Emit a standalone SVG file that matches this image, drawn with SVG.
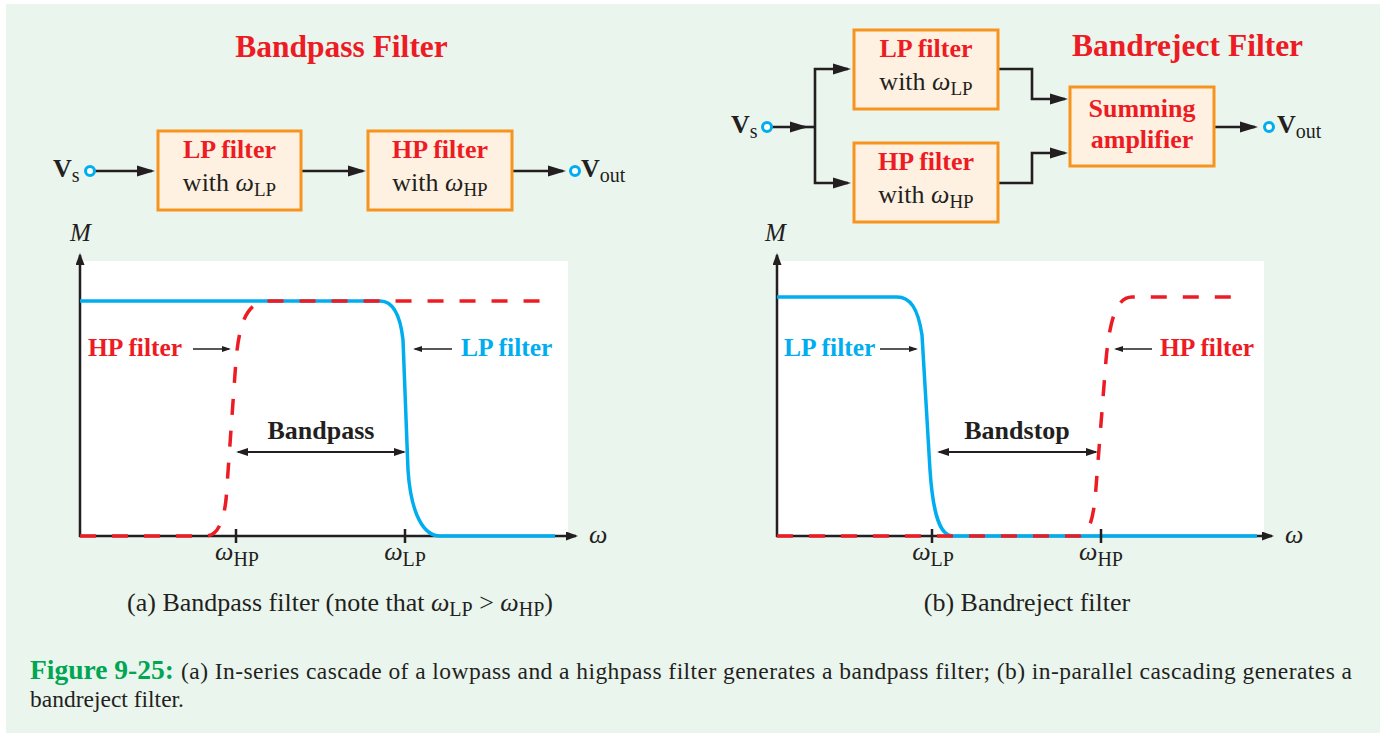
<svg xmlns="http://www.w3.org/2000/svg" width="1380" height="733" viewBox="0 0 1380 733">
<defs>
<style>
.t{font-family:"Liberation Serif","Times New Roman",serif;fill:#231F20}
.b{font-weight:bold}
.i{font-style:italic}
.red{fill:#ED1C24}
.blue{fill:#00AEEF}
.green{fill:#00A651}
.box{fill:#FEF1E1;stroke:#F7941D;stroke-width:3}
.conn{fill:none;stroke:#231F20;stroke-width:2.6;stroke-linejoin:miter}
.arr{marker-end:url(#ah)}
.term{fill:#FFFFFF;stroke:#00AEEF;stroke-width:3}
.plot{fill:#FFFFFF}
.axis{fill:none;stroke:#231F20;stroke-width:2.5;marker-end:url(#ax)}
.lp{fill:none;stroke:#00AEEF;stroke-width:3.5}
.hp{fill:none;stroke:#ED1C24;stroke-width:3.5;stroke-dasharray:16 16}
.tick{stroke:#231F20;stroke-width:2.5}
.ptr{fill:none;stroke:#231F20;stroke-width:1.6;marker-end:url(#sm)}
.dbl{fill:none;stroke:#231F20;stroke-width:2;marker-start:url(#dh);marker-end:url(#dh)}
</style>
<marker id="ah" markerUnits="userSpaceOnUse" markerWidth="18" markerHeight="12" refX="15" refY="6" orient="auto"><path d="M0,0.5 L18,6 L0,11.5 z" fill="#231F20"/></marker>
<marker id="ax" markerUnits="userSpaceOnUse" markerWidth="12" markerHeight="9" refX="10" refY="4.5" orient="auto"><path d="M0,0 L12,4.5 L0,9 z" fill="#231F20"/></marker>
<marker id="sm" markerUnits="userSpaceOnUse" markerWidth="9" markerHeight="7" refX="7" refY="3.5" orient="auto"><path d="M0,0.5 L9,3.5 L0,6.5 z" fill="#231F20"/></marker>
<marker id="dh" markerUnits="userSpaceOnUse" markerWidth="12" markerHeight="8" refX="10" refY="4" orient="auto-start-reverse"><path d="M0,0 L12,4 L0,8 z" fill="#231F20"/></marker>
</defs>

<rect x="0" y="0" width="1380" height="733" fill="#FFFFFF"/>
<rect x="6" y="4" width="1374" height="729" fill="#EAF5EE"/>

<!-- Titles -->
<g id="title-bandpass"><text class="t b red" x="341.5" y="57" font-size="31.5" text-anchor="middle">Bandpass Filter</text></g>
<g id="title-bandreject"><text class="t b red" x="1187.5" y="56" font-size="31.5" text-anchor="middle">Bandreject Filter</text></g>

<!-- Connectors -->
<g id="connectors">
<path class="conn arr" d="M94,171 H152"/>
<path class="conn arr" d="M301,171 H363"/>
<path class="conn arr" d="M512,171 H563"/>
<path class="conn arr" d="M771,127 H805"/>
<path class="conn" d="M800,127 H815"/>
<path class="conn arr" d="M815,127 V69 H848"/>
<path class="conn arr" d="M815,127 V183 H848"/>
<path class="conn arr" d="M998,69 H1032 V99 H1065"/>
<path class="conn arr" d="M998,183 H1032 V153 H1065"/>
<path class="conn arr" d="M1214,127 H1255"/>
</g>

<!-- Left block diagram nodes -->
<g id="vs-left">
<text class="t" x="53" y="177" font-size="26"><tspan class="b">V</tspan><tspan font-size="20" dy="5">s</tspan></text>
<circle class="term" cx="90" cy="171" r="4.5"/>
</g>
<g id="lp-box-left">
<rect class="box" x="158" y="131" width="143" height="79"/>
<text class="t b red" x="229.5" y="158" font-size="26" text-anchor="middle">LP filter</text>
<text class="t" x="229.5" y="191" font-size="26" text-anchor="middle">with <tspan class="i">ω</tspan><tspan font-size="19" dy="5">LP</tspan></text>
</g>
<g id="hp-box-left">
<rect class="box" x="368" y="131" width="144" height="79"/>
<text class="t b red" x="440" y="158" font-size="26" text-anchor="middle">HP filter</text>
<text class="t" x="440" y="191" font-size="26" text-anchor="middle">with <tspan class="i">ω</tspan><tspan font-size="19" dy="5">HP</tspan></text>
</g>
<g id="vout-left">
<circle class="term" cx="575" cy="171" r="4.5"/>
<text class="t" x="581" y="177" font-size="26"><tspan class="b">V</tspan><tspan font-size="20" dy="5">out</tspan></text>
</g>

<!-- Right block diagram nodes -->
<g id="vs-right">
<text class="t" x="731" y="133" font-size="26"><tspan class="b">V</tspan><tspan font-size="20" dy="5">s</tspan></text>
<circle class="term" cx="767" cy="127" r="4.5"/>
</g>
<g id="lp-box-right">
<rect class="box" x="854" y="30" width="144" height="79"/>
<text class="t b red" x="926" y="57" font-size="26" text-anchor="middle">LP filter</text>
<text class="t" x="926" y="90" font-size="26" text-anchor="middle">with <tspan class="i">ω</tspan><tspan font-size="19" dy="5">LP</tspan></text>
</g>
<g id="hp-box-right">
<rect class="box" x="854" y="143" width="144" height="79"/>
<text class="t b red" x="926" y="170" font-size="26" text-anchor="middle">HP filter</text>
<text class="t" x="926" y="203" font-size="26" text-anchor="middle">with <tspan class="i">ω</tspan><tspan font-size="19" dy="5">HP</tspan></text>
</g>
<g id="summing-amplifier">
<rect class="box" x="1070" y="87" width="144" height="79"/>
<text class="t b red" x="1142" y="117" font-size="26" text-anchor="middle">Summing</text>
<text class="t b red" x="1142" y="148" font-size="26" text-anchor="middle">amplifier</text>
</g>
<g id="vout-right">
<circle class="term" cx="1269" cy="127" r="4.5"/>
<text class="t" x="1277" y="133" font-size="26"><tspan class="b">V</tspan><tspan font-size="20" dy="5">out</tspan></text>
</g>

<!-- Plot (a) -->
<g id="plot-a">
<rect class="plot" x="80" y="261" width="488" height="275"/>
<path class="axis" d="M80,537 V255"/>
<path class="axis" d="M79,536 H576"/>
<text class="t i" x="70" y="241" font-size="25">M</text>
<text class="t i" x="589" y="543" font-size="26">ω</text>
<path class="lp" d="M80,301 L380,301 C392,301 400,312 403,340 L408,470 C411,515 424,536 440,536 L555,536"/>
<path class="hp" d="M80,536 L206,536 C216,536 223,525 226,500 L236,360 C240,315 250,301 270,301 L540,301"/>
<path class="tick" d="M236,529 V543 M405,529 V543"/>
<text class="t" x="237" y="560" font-size="26" text-anchor="middle"><tspan class="i">ω</tspan><tspan font-size="20" dy="6">HP</tspan></text>
<text class="t" x="405" y="560" font-size="26" text-anchor="middle"><tspan class="i">ω</tspan><tspan font-size="20" dy="6">LP</tspan></text>
<text class="t b red" x="88" y="356" font-size="25.5">HP filter</text>
<path class="ptr" d="M193,349 H229"/>
<text class="t b blue" x="461" y="356" font-size="25.5">LP filter</text>
<path class="ptr" d="M452,349 H415"/>
<text class="t b" x="321" y="439" font-size="26" text-anchor="middle">Bandpass</text>
<path class="dbl" d="M238,452 H404"/>
<text class="t" x="340" y="611" font-size="26" text-anchor="middle">(a) Bandpass filter (note that <tspan class="i">ω</tspan><tspan font-size="20" dy="5">LP</tspan><tspan dy="-5"> &gt; </tspan><tspan class="i">ω</tspan><tspan font-size="20" dy="5">HP</tspan><tspan dy="-5">)</tspan></text>
</g>

<!-- Plot (b) -->
<g id="plot-b">
<rect class="plot" x="777" y="261" width="487" height="275"/>
<path class="axis" d="M777,537 V255"/>
<path class="axis" d="M776,536 H1272"/>
<text class="t i" x="765" y="241" font-size="25">M</text>
<text class="t i" x="1285" y="543" font-size="26">ω</text>
<path class="lp" d="M777,297 L897,297 C910,297 918,308 922,335 L930,470 C933,515 940,536 953,536 L1257,536"/>
<path class="hp" d="M777,536 L1078,536 C1087,536 1092,525 1095,500 L1106,360 C1110,315 1118,297 1132,297 L1236,297"/>
<path class="tick" d="M932,529 V543 M1101,529 V543"/>
<text class="t" x="933" y="560" font-size="26" text-anchor="middle"><tspan class="i">ω</tspan><tspan font-size="20" dy="6">LP</tspan></text>
<text class="t" x="1101" y="560" font-size="26" text-anchor="middle"><tspan class="i">ω</tspan><tspan font-size="20" dy="6">HP</tspan></text>
<text class="t b blue" x="784" y="356" font-size="25.5">LP filter</text>
<path class="ptr" d="M880,349 H916"/>
<text class="t b red" x="1160" y="356" font-size="25.5">HP filter</text>
<path class="ptr" d="M1152,349 H1116"/>
<text class="t b" x="1017" y="439" font-size="26" text-anchor="middle">Bandstop</text>
<path class="dbl" d="M939,452 H1096"/>
<text class="t" x="1027" y="611" font-size="26" text-anchor="middle">(b) Bandreject filter</text>
</g>

<!-- Figure caption -->
<g id="caption">
<text class="t b green" x="30" y="679" font-size="27.5">Figure 9-25:</text>
<text class="t" x="181" y="679" font-size="23.5" textLength="1171" lengthAdjust="spacing">(a) In-series cascade of a lowpass and a highpass filter generates a bandpass filter; (b) in-parallel cascading generates a</text>
<text class="t" x="30" y="707" font-size="23.5">bandreject filter.</text>
</g>
</svg>
